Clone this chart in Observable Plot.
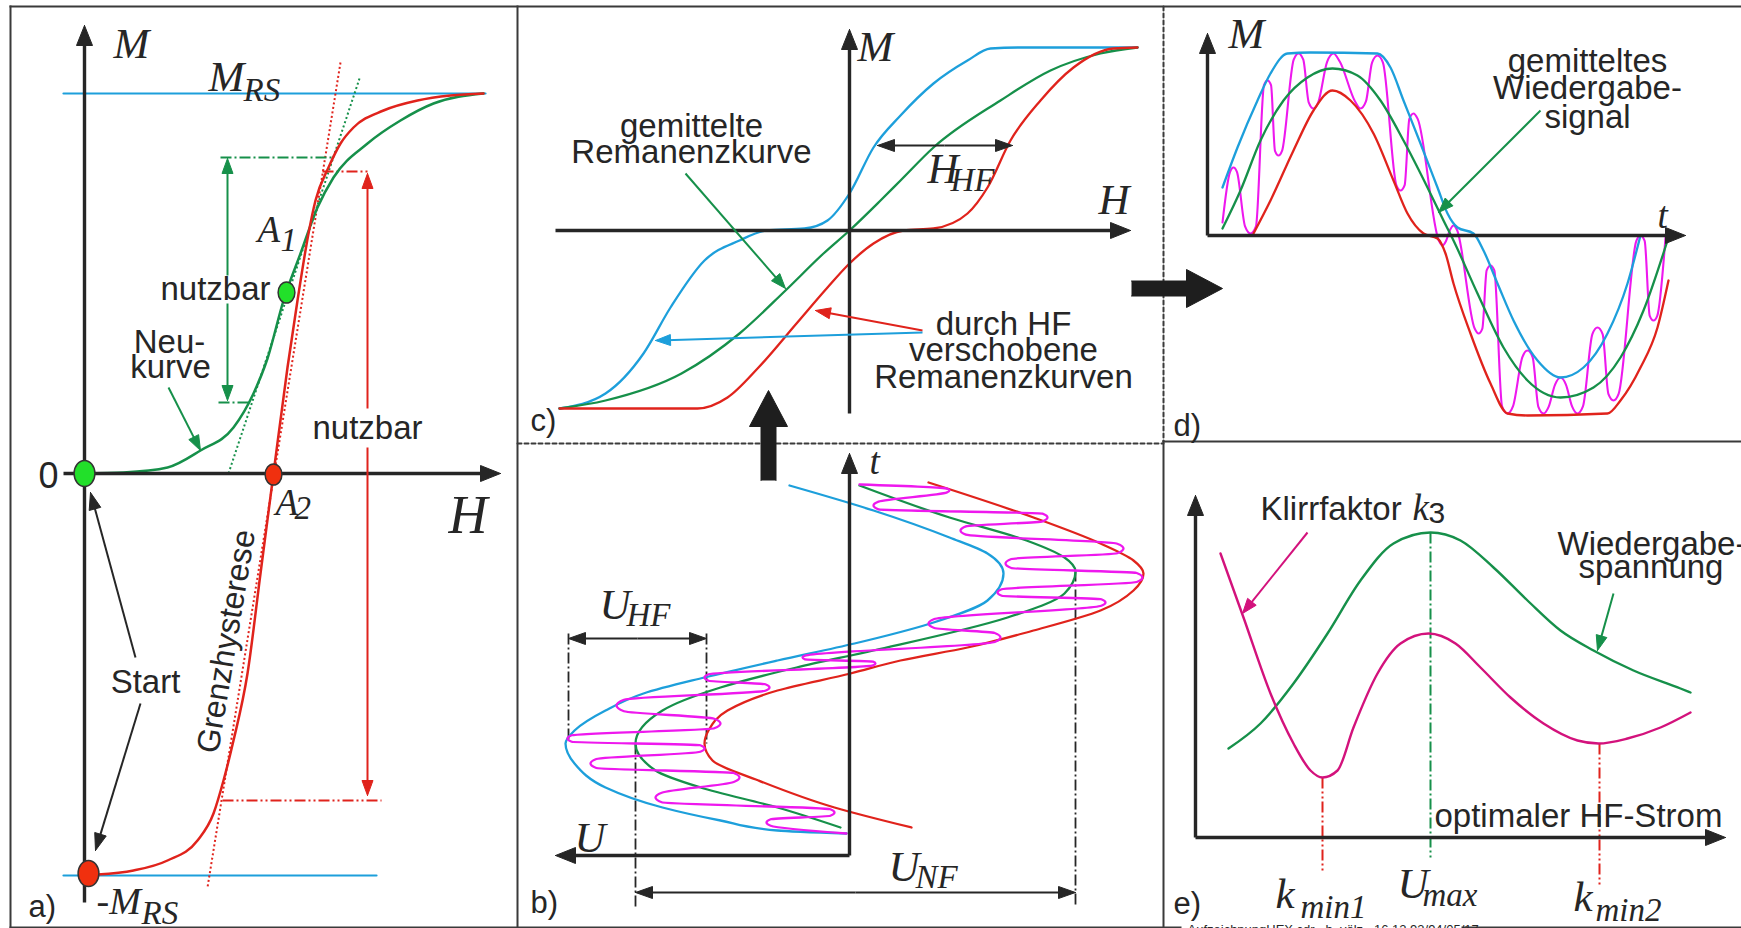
<!DOCTYPE html>
<html><head><meta charset="utf-8">
<script src="https://cdn.jsdelivr.net/npm/d3@7"></script>
<script src="https://cdn.jsdelivr.net/npm/@observablehq/plot@0.6"></script>
<style>html,body{margin:0;padding:0;background:#fff;overflow:hidden}#chart svg{display:block}</style>
</head><body><div id="chart"></div>
<script>
// ---------- Panel frames ----------
const frameSolid = [[[10,6],[1741,6]],[[10,6],[10,927]],[[10,927],[1180,927]],[[1462,927],[1741,927]],[[517,6],[517,927]],[[1163,441],[1741,441]],[[1163,441],[1163,927]]];
const frameDashed = [[[517,443],[1163,443]],[[1163,6],[1163,441]]];

// ---------- Panel a: Neukurve / Grenzhysterese ----------
const aSaturation = [[[63,93],[485,93]],[[63,875],[376,875]]];
const aNeukurve = [[84,473],[123,472],[167,467],[200,450],[233,427],[253,393],[267,358],[283,300],[300,253],[317,207],[333,177],[367,143],[400,120],[433,103],[483,93]];
const aGrenz = [[97,874],[133,870],[167,860],[197,840],[213,813],[223,780],[233,740],[247,673],[260,573],[273,473],[287,367],[297,300],[308,233],[315,200],[328,167],[340,143],[353,127],[383,110],[417,100],[450,95],[483,93]];
const aTangentRed = [[340,62],[207,887]];
const aTangentGreen = [[359,78],[228,473]];
const aLimitsGreen = [[[220,157],[333,157]],[[218,402],[250,402]]];
const aLimitsRed = [[[322,171],[370,171]],[[222,800],[381,800]]];
const aPointsBig = [[84,473],[88,873]];
const aPointsSmall = [[286,292],[273,474]];

// ---------- Panel c: Remanenzkurven ----------
const cBlue = [[559,408],[605,393],[643,353],[670,307],[704,260],[739,240],[766,230],[804,228],[827,220],[849,193],[873,147],[900,115],[933,83],[967,60],[990,48],[1020,47],[1137,47]];
const cGreen = [[559,408],[605,400],[681,373],[739,333],[785,290],[823,253],[849,230],[880,200],[900,180],[933,147],[1000,100],[1050,70],[1100,53],[1137,47]];
const cRed = [[559,408],[697,408],[727,397],[758,367],[796,323],[827,287],[849,263],[873,243],[903,230],[933,228],[967,213],[987,187],[1010,140],[1040,100],[1073,67],[1113,48],[1137,47]];

// ---------- Panel b: Aufzeichnungssignal ----------
const bBlue = [[789,485],[873,510],[949,537],[987,553],[1003,573],[987,600],[930,623],[854,643],[777,660],[704,677],[643,693],[605,710],[574,730],[565,743],[574,763],[605,787],[662,807],[720,820],[777,830],[846,833]];
const bGreen = [[859,485],[949,517],[1026,540],[1064,557],[1075,571],[1064,593],[1007,617],[873,650],[796,667],[720,687],[662,710],[635,743],[655,770],[700,787],[777,807],[840,827]];
const bRed = [[928,482],[1033,517],[1100,543],[1133,560],[1143,573],[1133,590],[1100,610],[1033,630],[967,647],[900,660],[850,673],[777,690],[727,710],[708,730],[704,743],[712,760],[758,780],[834,807],[911,827]];
// turning points of the HF signal (alternating right / left)
const bHF = [[859,484],[949,490],[873,505],[1047,517],[960,530],[1123,548],[1005,563],[1142,577],[997,592],[1105,602],[928,623],[1000,637],[802,657],[875,663],[704,677],[769,687],[616,705],[720,723],[567,738],[704,748],[590,763],[739,777],[655,797],[834,812],[766,822],[846,833]];
const bGuides = [[[568,633],[568,740]],[[706,633],[706,743]],[[635,743],[635,907]],[[1075,570],[1075,907]]];

// ---------- Panel d: Wiedergabesignal ----------
const dBlue = [[1222,187],[1237,147],[1257,100],[1270,73],[1287,53],[1310,52],[1377,53],[1390,67],[1403,100],[1420,143],[1437,187],[1447,213],[1457,227],[1473,233],[1483,250],[1497,283],[1513,320],[1537,360],[1560,377],[1583,367],[1607,333],[1627,283],[1640,235]];
const dGreen = [[1222,228],[1240,190],[1260,140],[1283,100],[1307,77],[1332,68],[1357,75],[1380,100],[1403,140],[1427,187],[1443,220],[1453,240],[1477,293],[1503,347],[1527,380],[1560,397],[1593,387],[1620,357],[1643,310],[1667,240]];
const dRed = [[1253,233],[1270,200],[1293,150],[1313,110],[1332,90],[1350,100],[1373,133],[1393,180],[1407,213],[1423,233],[1437,238],[1445,253],[1453,283],[1470,333],[1490,383],[1507,413],[1527,415],[1607,413],[1620,400],[1640,367],[1657,327],[1668,280]];
// turning points of the HF signal (alternating top / bottom)
const dHF = [[1222,222],[1233,167],[1250,233],[1267,80],[1278,155],[1298,53],[1313,108],[1333,53],[1360,108],[1377,55],[1400,190],[1413,113],[1442,245],[1453,225],[1478,333],[1490,265],[1507,413],[1527,350],[1543,413],[1560,377],[1577,413],[1597,327],[1613,400],[1640,235],[1653,320],[1665,237]];

// ---------- Panel e: Arbeitspunkt ----------
const eVoltage = [[1228,748],[1260,723],[1293,683],[1327,633],[1360,580],[1393,543],[1430,532],[1460,540],[1493,567],[1527,600],[1560,630],[1593,650],[1633,670],[1680,688],[1690,692]];
const eDistortion = [[1220,553],[1243,617],[1270,693],[1293,743],[1310,770],[1322,777],[1337,770],[1353,727],[1377,673],[1400,643],[1428,633],[1455,643],[1480,667],[1510,697],[1543,723],[1577,740],[1598,743],[1627,738],[1660,727],[1690,712]];
const eGuideGreen = [[[1430,532],[1430,857]]];
const eGuidesRed = [[[1322,777],[1322,873]],[[1599,743],[1599,887]]];

// ---------- Arrows ----------
const axisArrows = [[[84,902],[84,25]],[[63,473],[500,473]],[[849,413],[849,29]],[[555,230],[1130,230]],[[849,855],[849,453]],[[849,855],[555,855]],[[1207,235],[1207,33]],[[1207,235],[1685,235]],[[1195,837],[1195,495]],[[1195,837],[1725,837]]];
const blackArrows = [[[135,657],[90,492]],[[140,703],[95,850]],[[944,145],[877,145]],[[944,145],[1012,145]],[[637,638],[568,638]],[[637,638],[706,638]],[[855,892],[635,892]],[[855,892],[1075,892]]];
const greenArrows = [[[168,387],[200,450]],[[227,275],[227,158]],[[227,303],[227,400]],[[685,173],[785,288]],[[1540,110],[1438,212]],[[1613,593],[1597,650]]];
const redArrows = [[[367,408],[367,173]],[[367,447],[367,795]],[[922,330],[815,310]]];
const blueArrows = [[[922,332],[655,340]]];
const crimsonArrows = [[[1307,532],[1242,613]]];
const blockArrows = [[[768,480],[768,390]],[[1131,288],[1222,288]]];

// ---------- Texts ----------
const sansCentered = [["gemittelte",691,136],["Remanenzkurve",691,162],["durch HF",1003,334],["verschobene",1003,360],["Remanenzkurven",1003,387],["gemitteltes",1587,71],["Wiedergabe-",1587,98],["signal",1587,127],["Neu-",169,352],["kurve",170,377],["nutzbar",215,299],["nutzbar",367,438],["Start",145,692]];
const sansLeft = [["Klirrfaktor",1260,519],["Wiedergabe-",1557,554],["spannung",1578,577],["optimaler HF-Strom",1434,826]];
const rotatedLabel = [["Grenzhysterese",226,641,-80.5]];
const panelTags = [["a)",28,916],["b)",530,912],["c)",530,430],["d)",1173,435],["e)",1173,913]];
const zeroLabel = [["0",48,487]];
const indexDigit = [["3",1428,522]];
const serifHuge = [["H",448,532]];
const serifLarge = [["M",113,57],["M",208,90],["M",857,60],["H",1098,213],["H",927,182],["U",574,851],["U",599,618],["U",888,880],["M",1228,47],["k",1275,907],["U",1397,897],["k",1573,910]];
const serifMinus = [["-M",96,913]];
const serifMid = [["A",257,241],["A",275,514],["t",869,473],["t",1657,227],["k",1412,519]];
const serifSub = [["RS",243,100],["RS",141,923],["1",280,250],["2",294,518],["HF",950,190],["HF",626,625],["NF",915,887],["min1",1300,917],["max",1422,905],["min2",1595,920]];
const footer = [["AufzeichnungHEX.cdr   h. völz   16.12.93/94/05/17",1187,933]];

// ---------- helpers ----------
const C = {ink:"#262626", blue:"#1d9fdb", green:"#16904a", red:"#e0231c", hf:"#ee18ee", crimson:"#d3127c"};
const SANS = "Liberation Sans, Arial, Helvetica, sans-serif";
const SERIF = "Liberation Serif, Times New Roman, serif";
const P = d => ({x: d[0], y: d[1]});
const segs = list => list.flatMap((pts,k) => pts.map(p => ({x:p[0], y:p[1], k})));
const path = (pts, o) => Plot.line(pts.map(P), {x:"x", y:"y", ...o});
const multi = (list, o) => Plot.line(segs(list), {x:"x", y:"y", z:"k", ...o});
// rounded turns of the HF loops: each turning point gets two shoulders along the track
function loops(ext, oi, ti) {
  const out = [];
  ext.forEach((p, i) => {
    if (i === 0 || i === ext.length - 1) { out.push(p); return; }
    const o = p[oi], t = p[ti];
    const dir = Math.sign(o - ext[i-1][oi]);
    const gap = Math.min(t - ext[i-1][ti], ext[i+1][ti] - t);
    const h = 0.32 * gap, r = Math.min(1.3 * h, 0.3 * Math.abs(o - ext[i-1][oi]));
    const mk = (oo, tt) => { const q = []; q[oi] = oo; q[ti] = tt; return q; };
    out.push(mk(o - dir*r, t - h), mk(o, t), mk(o - dir*r, t + h));
  });
  return out;
}
function arrowMarks(list, color, width, L, Wd) {
  const shafts = [], heads = [];
  for (const [[x1,y1],[x2,y2]] of list) {
    const len = Math.hypot(x2-x1, y2-y1), ux = (x2-x1)/len, uy = (y2-y1)/len;
    const bx = x2 - L*ux, by = y2 - L*uy, nx = -uy, ny = ux;
    shafts.push([[x1,y1],[x2 - 0.7*L*ux, y2 - 0.7*L*uy]]);
    heads.push([[x2,y2],[bx+nx*Wd, by+ny*Wd],[bx-nx*Wd, by-ny*Wd],[x2,y2]]);
  }
  return [multi(shafts, {stroke: color, strokeWidth: width, strokeLinecap: "butt"}),
          multi(heads, {fill: color, stroke: color, strokeWidth: 1, strokeLinejoin: "miter"})];
}
function blockPolys(list, sw, hw, hl) {
  return list.map(([[x1,y1],[x2,y2]]) => {
    const len = Math.hypot(x2-x1, y2-y1), ux = (x2-x1)/len, uy = (y2-y1)/len, nx = -uy, ny = ux;
    const bx = x2 - hl*ux, by = y2 - hl*uy;
    return [[x1+nx*sw/2, y1+ny*sw/2],[bx+nx*sw/2, by+ny*sw/2],[bx+nx*hw/2, by+ny*hw/2],[x2,y2],
            [bx-nx*hw/2, by-ny*hw/2],[bx-nx*sw/2, by-ny*sw/2],[x1-nx*sw/2, y1-ny*sw/2]];
  });
}
const ellipse = {draw(ctx, size) {
  const r = Math.sqrt(size/Math.PI), rx = r*0.8, ry = r, k = 0.5523;
  ctx.moveTo(rx,0);
  ctx.bezierCurveTo(rx, ry*k, rx*k, ry, 0, ry);
  ctx.bezierCurveTo(-rx*k, ry, -rx, ry*k, -rx, 0);
  ctx.bezierCurveTo(-rx, -ry*k, -rx*k, -ry, 0, -ry);
  ctx.bezierCurveTo(rx*k, -ry, rx, -ry*k, rx, 0);
  ctx.closePath();
}};
const txt = (list, o) => Plot.text(list, {x: d=>d[1], y: d=>d[2], text: d=>d[0], lineAnchor: "bottom", fill: C.ink, ...o});

const dashDot = "11,3,2,3", dashDotDot = "11,3,2,3,2,3";

const marks = [
  // frames
  multi(frameSolid, {stroke:"#3a3a3a", strokeWidth:2, strokeLinecap:"square"}),
  multi(frameDashed, {stroke:"#3a3a3a", strokeWidth:2, strokeDasharray:"4,3"}),
  // panel a
  multi(aSaturation, {stroke:C.blue, strokeWidth:2.2}),
  path(aTangentRed, {stroke:C.red, strokeWidth:2, strokeDasharray:"2,2.5", strokeLinecap:"butt"}),
  path(aTangentGreen, {stroke:C.green, strokeWidth:2, strokeDasharray:"2,2.5", strokeLinecap:"butt"}),
  multi(aLimitsGreen, {stroke:C.green, strokeWidth:2, strokeDasharray:dashDot, strokeLinecap:"butt"}),
  multi(aLimitsRed, {stroke:C.red, strokeWidth:2, strokeDasharray:dashDotDot, strokeLinecap:"butt"}),
  path(aNeukurve, {stroke:C.green, strokeWidth:2.5, curve:"monotone-x"}),
  path(aGrenz, {stroke:C.red, strokeWidth:2.5, curve:"monotone-x"}),
  // panel c
  path(cBlue, {stroke:C.blue, strokeWidth:2.3, curve:"monotone-x"}),
  path(cGreen, {stroke:C.green, strokeWidth:2.3, curve:"monotone-x"}),
  path(cRed, {stroke:C.red, strokeWidth:2.3, curve:"monotone-x"}),
  // panel b
  multi(bGuides, {stroke:C.ink, strokeWidth:1.8, strokeDasharray:dashDot, strokeLinecap:"butt"}),
  path(bBlue, {stroke:C.blue, strokeWidth:2.3, curve:"monotone-y"}),
  path(bGreen, {stroke:C.green, strokeWidth:2.3, curve:"monotone-y"}),
  path(bRed, {stroke:C.red, strokeWidth:2.3, curve:"monotone-y"}),
  path(loops(bHF, 0, 1), {stroke:C.hf, strokeWidth:2.3, curve:"monotone-y"}),
  // panel d
  path(loops(dHF, 1, 0), {stroke:C.hf, strokeWidth:2.1, curve:"monotone-x"}),
  path(dBlue, {stroke:C.blue, strokeWidth:2.3, curve:"monotone-x"}),
  path(dGreen, {stroke:C.green, strokeWidth:2.3, curve:"monotone-x"}),
  path(dRed, {stroke:C.red, strokeWidth:2.3, curve:"monotone-x"}),
  // panel e
  multi(eGuideGreen, {stroke:C.green, strokeWidth:2, strokeDasharray:dashDot, strokeLinecap:"butt"}),
  multi(eGuidesRed, {stroke:C.red, strokeWidth:2, strokeDasharray:dashDotDot, strokeLinecap:"butt"}),
  path(eVoltage, {stroke:C.green, strokeWidth:2.4, curve:"monotone-x"}),
  path(eDistortion, {stroke:C.crimson, strokeWidth:2.4, curve:"monotone-x"}),
  // arrows
  ...arrowMarks(axisArrows, C.ink, 3.4, 20, 8),
  ...arrowMarks(blackArrows, C.ink, 2, 17, 6),
  ...arrowMarks(greenArrows, C.green, 2, 15, 5.5),
  ...arrowMarks(redArrows, C.red, 2, 15, 5.5),
  ...arrowMarks(blueArrows, C.blue, 2, 15, 5.5),
  ...arrowMarks(crimsonArrows, C.crimson, 2, 15, 5.5),
  Plot.line(segs(blockPolys(blockArrows, 15, 38, 36)), {x:"x", y:"y", z:"k", fill:"#1e1e1e", stroke:"#1e1e1e", strokeWidth:1}),
  // points
  Plot.dot(aPointsBig.map(P), {x:"x", y:"y", r:13, symbol:ellipse, fill:(d,i)=> i===0 ? "#22e02a" : "#f0300f", stroke:"#333", strokeWidth:1.5}),
  Plot.dot(aPointsSmall.map(P), {x:"x", y:"y", r:10.5, symbol:ellipse, fill:(d,i)=> i===0 ? "#22e02a" : "#f0300f", stroke:"#333", strokeWidth:1.5}),
  // texts
  txt(sansCentered, {fontFamily:SANS, fontSize:33, textAnchor:"middle"}),
  txt(sansLeft, {fontFamily:SANS, fontSize:33, textAnchor:"start"}),
  Plot.text(rotatedLabel, {x:d=>d[1], y:d=>d[2], text:d=>d[0], rotate:d=>d[3], fontFamily:SANS, fontSize:32, textAnchor:"middle", lineAnchor:"middle", fill:C.ink}),
  txt(panelTags, {fontFamily:SANS, fontSize:31, textAnchor:"start"}),
  txt(zeroLabel, {fontFamily:SANS, fontSize:36, textAnchor:"middle"}),
  txt(indexDigit, {fontFamily:SANS, fontSize:30, textAnchor:"start"}),
  txt(serifHuge, {fontFamily:SERIF, fontStyle:"italic", fontSize:54, textAnchor:"start"}),
  txt(serifLarge, {fontFamily:SERIF, fontStyle:"italic", fontSize:43, textAnchor:"start"}),
  txt(serifMinus, {fontFamily:SERIF, fontStyle:"italic", fontSize:38, textAnchor:"start"}),
  txt(serifMid, {fontFamily:SERIF, fontStyle:"italic", fontSize:37, textAnchor:"start"}),
  txt(serifSub, {fontFamily:SERIF, fontStyle:"italic", fontSize:33, textAnchor:"start"}),
  txt(footer, {fontFamily:SANS, fontSize:13, textAnchor:"start"})
];

const chart = Plot.plot({
  width: 1741, height: 928, margin: 0,
  x: {domain:[0,1741], range:[0,1741], axis:null},
  y: {domain:[0,928], range:[0,928], axis:null},
  style: {background:"#fff", overflow:"hidden"},
  marks
});
document.getElementById("chart").append(chart);
</script></body></html>
